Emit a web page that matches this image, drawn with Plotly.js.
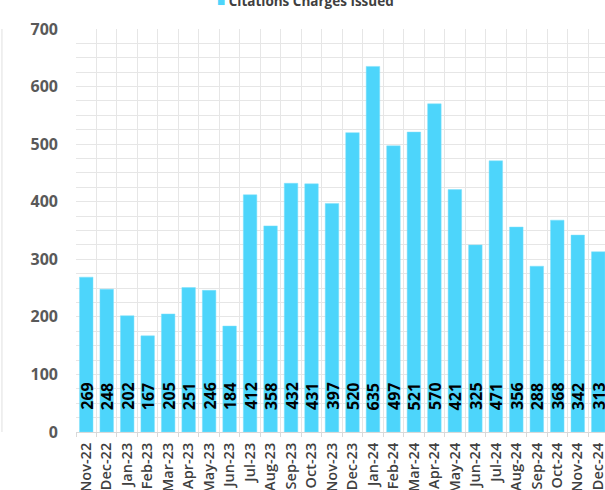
<!DOCTYPE html>
<html>
<head>
<meta charset="utf-8">
<script src="https://cdn.plot.ly/plotly-3.0.1.min.js"></script>
<style>html,body{margin:0;padding:0;background:#fff;}#chart{width:605px;height:490px;}</style>
</head>
<body>
<div id="chart"></div>
<script>
const months = ["Nov-22","Dec-22","Jan-23","Feb-23","Mar-23","Apr-23","May-23","Jun-23","Jul-23","Aug-23","Sep-23","Oct-23","Nov-23","Dec-23","Jan-24","Feb-24","Mar-24","Apr-24","May-24","Jun-24","Jul-24","Aug-24","Sep-24","Oct-24","Nov-24","Dec-24"];
const citations = [269,248,202,167,205,251,246,184,412,358,432,431,397,520,635,497,521,570,421,325,471,356,288,368,342,313];
const seriesName = "Citations Charges Issued";
const yTicks = [0,100,200,300,400,500,600,700];

const barColor = "#4dd5fb";
const gridColor = "#e6e6e6";
const fontFam = "'Open Sans', sans-serif";

const trace = {
  type: "bar",
  x: months,
  y: citations,
  name: seriesName,
  marker: {color: barColor, line: {color: "#7fe0fb", width: 0.5}},
  hoverinfo: "x+y"
};

const labelAnnotations = months.map((m, i) => ({
  x: m, y: 0, xref: "x", yref: "y",
  text: String(citations[i]),
  showarrow: false,
  textangle: -90,
  xanchor: "center", yanchor: "bottom",
  yshift: 20,
  font: {family: fontFam, size: 16, color: "#000", weight: 700}
}));

const legendAnnotation = {
  xref: "paper", yref: "paper", x: (305 - 76) / 529, y: 1, yshift: 28,
  xanchor: "center", yanchor: "middle",
  text: '<span style="color:' + barColor + '">■</span> ' + seriesName,
  showarrow: false,
  font: {family: fontFam, size: 13.5, color: "#404040", weight: 700}
};

const layout = {
  width: 605, height: 490,
  margin: {l: 76, r: 0, t: 29, b: 58, pad: 0},
  paper_bgcolor: "#fff", plot_bgcolor: "#fff",
  showlegend: false,
  bargap: 0.34,
  xaxis: {
    type: "category",
    range: [-0.5, 25.33],
    tickson: "boundaries",
    showgrid: true, gridcolor: gridColor, gridwidth: 1,
    ticks: "outside", ticklen: 4, tickcolor: "#d9d9d9",
    showline: true, linecolor: "#d9d9d9", linewidth: 1,
    tickangle: -90,
    tickfont: {family: fontFam, size: 14.5, color: "#404040", weight: 600},
    ticklabelstandoff: 4,
    fixedrange: true
  },
  yaxis: {
    range: [0, 700],
    tickvals: yTicks,
    ticktext: yTicks.map(String),
    showgrid: true, gridcolor: gridColor, gridwidth: 1,
    minor: {dtick: 25, showgrid: true, gridcolor: gridColor, gridwidth: 1},
    zeroline: false,
    showline: false,
    ticks: "",
    ticklabelstandoff: 17,
    tickfont: {family: fontFam, size: 16, color: "#595959", weight: 700},
    fixedrange: true
  },
  annotations: [legendAnnotation].concat(labelAnnotations),
  shapes: [{
    type: "line", xref: "paper", yref: "paper",
    x0: -0.14, x1: -0.14, y0: 0, y1: 1,
    line: {color: "#e0e0e0", width: 1}
  }]
};

Plotly.newPlot("chart", [trace], layout, {displayModeBar: false, staticPlot: true});
</script>
</body>
</html>
